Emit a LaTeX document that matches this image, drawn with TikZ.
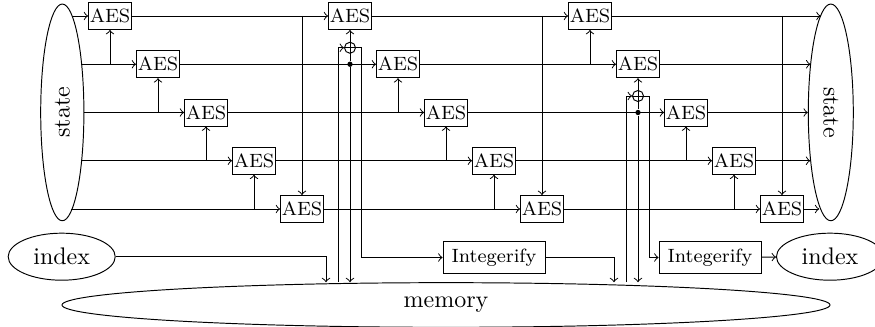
\documentclass[tikz,border=0pt]{standalone}
\usepackage{graphicx}
\usetikzlibrary{shapes.geometric,calc}
\begin{document}
\begin{tikzpicture}[x=0.41667pt,y=-0.41667pt,
  aes/.style={draw, rectangle, font=\footnotesize, minimum width=17.5pt, minimum height=11.25pt, inner sep=0.5pt},
  intg/.style={draw, rectangle, font=\footnotesize, minimum width=42.5pt, minimum height=13.2pt, inner sep=1pt},
  oval/.style={draw, ellipse, inner sep=0pt},
  xorc/.style={draw, circle, minimum size=4.6pt, inner sep=0pt},
  dotn/.style={fill, circle, minimum size=2.2pt, inner sep=0pt},
  conn/.style={->}
]
\useasboundingbox (0,0) rectangle (875,327);
% AES boxes
\foreach \k in {0,...,14}{
  \pgfmathtruncatemacro{\r}{mod(\k,5)}
  \node[aes] (a\k) at ({110+48*\k},{16+48.25*\r}) {AES};
}
% ellipses
\node[oval, minimum width=18pt, minimum height=90.3pt] (ls) at (62.3,112.4) {\rotatebox{90}{state}};
\node[oval, minimum width=18.75pt, minimum height=90.3pt] (rs) at (830.8,112.4) {\rotatebox{-90}{state}};
\node[oval, minimum width=44.6pt, minimum height=19.6pt] (li) at (61.7,256.7) {index};
\node[oval, minimum width=44.6pt, minimum height=19.6pt] (ri) at (830,256.7) {index};
\node[oval, minimum width=320pt, minimum height=18.6pt] (mem) at (446,305) {memory};
\node[intg] (i1) at (494,257.5) {Integerify};
\node[intg] (i2) at (710,257.5) {Integerify};
\node[xorc] (x1) at (350,47.75) {};
\node[xorc] (x2) at (638,96) {};
\draw (x1.north) -- (x1.south) (x1.east) -- (x1.west);
\draw (x2.north) -- (x2.south) (x2.east) -- (x2.west);
\node[dotn] (d1) at (350,64.25) {};
\node[dotn] (d2) at (638,112.5) {};
% bus x positions
\coordinate (b0) at (326,0);
\coordinate (b1) at (338,0);
\coordinate (b2) at (361.7,0);
\coordinate (b3) at (614,0);
\coordinate (b4) at (626.3,0);
\coordinate (b5) at (649.5,0);
% left state to first column
\draw[conn] (a0 -| ls.84.15) -- (a0);
\draw[conn] (a1 -| ls.68.07) -- (a1);
\draw[conn] (a2 -| ls.east) -- (a2);
\draw[conn] (a3 -| ls.291.93) -- (a3);
\draw[conn] (a4 -| ls.275.85) -- (a4);
% between columns
\foreach \k in {0,...,9}{
  \pgfmathtruncatemacro{\n}{\k+5}
  \draw[conn] (a\k) -- (a\n);
}
% last column to right state
\draw[conn] (a10) -- (a10 -| rs.96.08);
\draw[conn] (a11) -- (a11 -| rs.112.7);
\draw[conn] (a12) -- (a12 -| rs.west);
\draw[conn] (a13) -- (a13 -| rs.247.3);
\draw[conn] (a14) -- (a14 -| rs.263.92);
% keys from the row below
\foreach \k in {0,1,2,3,6,7,8,10,12,13}{
  \pgfmathtruncatemacro{\n}{\k+1}
  \draw[conn] (a\k |- a\n) -- (a\k);
}
% keys from the first row
\foreach \k in {4,9,14}{
  \pgfmathtruncatemacro{\n}{\k-4}
  \draw[conn] (a\k |- a\n) -- (a\k);
}
% first xor
\draw[conn] (x1) -- (a5);
\draw (d1) -- (x1);
\draw[conn] (d1) -- (d1 |- mem.north);
\draw[conn] (b1 |- mem.north) |- (x1);
\draw[conn] (x1) -| (b2 |- i1) -- (i1);
\draw[conn] (li) -| (b0 |- mem.north);
\draw[conn] (i1) -| (b3 |- mem.north);
% second xor
\draw[conn] (x2) -- (a11);
\draw (d2) -- (x2);
\draw[conn] (d2) -- (d2 |- mem.north);
\draw[conn] (b4 |- mem.north) |- (x2);
\draw[conn] (x2) -| (b5 |- i2) -- (i2);
\draw[conn] (i2) -- (ri);
\end{tikzpicture}
\end{document}
